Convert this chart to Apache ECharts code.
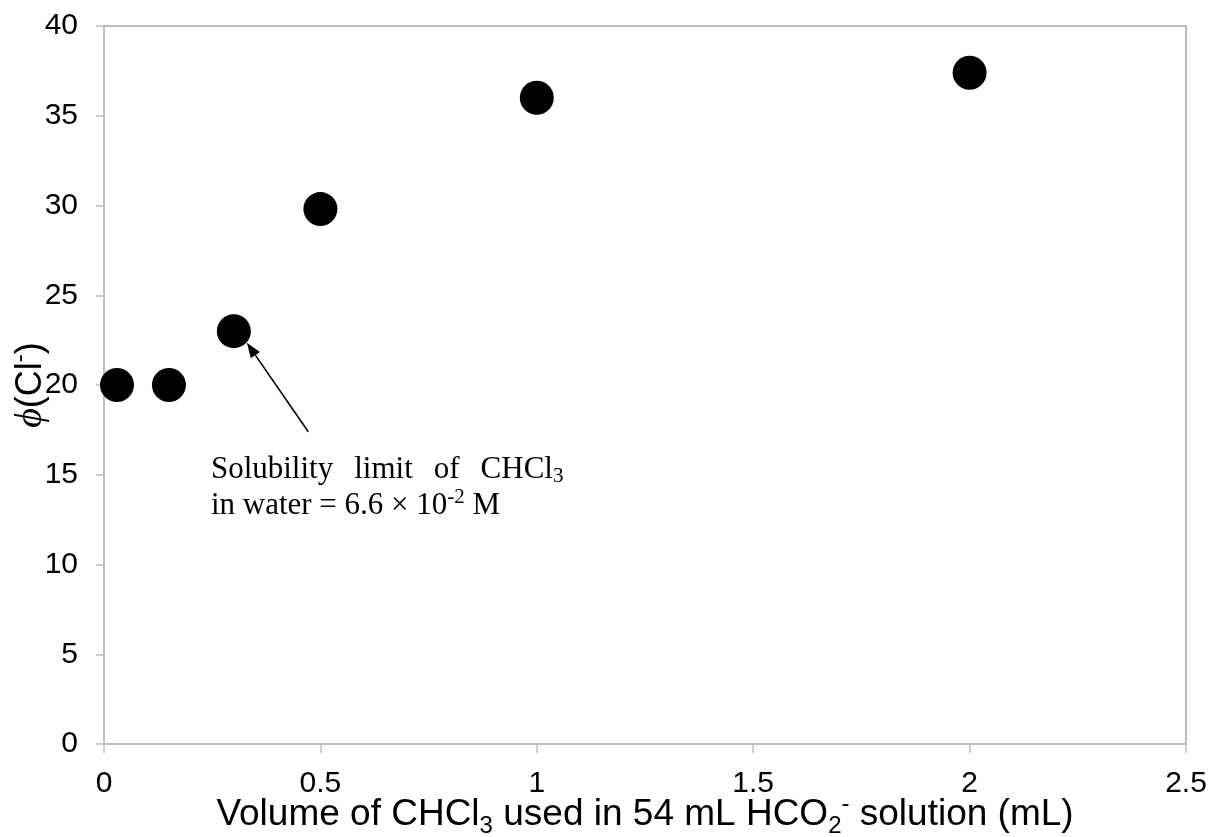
<!DOCTYPE html>
<html>
<head>
<meta charset="utf-8">
<script src="https://cdn.jsdelivr.net/npm/echarts@6/dist/echarts.min.js"></script>
<style>
html,body{margin:0;padding:0;background:#fff;}
#chart{width:1213px;height:837px;}
</style>
</head>
<body>
<div id="chart"></div>
<script>
// Data
const volumes = [0.03, 0.15, 0.3, 0.5, 1, 2];
const phiValues = [20, 20, 23, 29.8, 36, 37.4];
const xTicks = [0, 0.5, 1, 1.5, 2, 2.5];
const yTicks = [0, 5, 10, 15, 20, 25, 30, 35, 40];
// annotation (data coordinates)
const arrowFrom = [0.472, 17.4];
const arrowTo = [0.330, 22.35];
const noteAnchor = [0.247, 16.3];

const points = volumes.map((v, i) => [v, phiValues[i]]);
const sans = 'Liberation Sans, Arial, sans-serif';
const serif = 'Liberation Serif, Times New Roman, serif';

const chart = echarts.init(document.getElementById('chart'), null, {renderer: 'canvas'});
const option = {
  animation: false,
  backgroundColor: '#fff',
  grid: {left: 104, right: 27, top: 26, bottom: 93, containLabel: false, outerBoundsMode: 'none',
    show: true, borderColor: '#a6a6a6', borderWidth: 1.5},
  xAxis: {
    type: 'value', min: xTicks[0], max: xTicks[xTicks.length - 1], interval: 0.5,
    splitLine: {show: false},
    axisLine: {lineStyle: {color: '#c0c0c0', width: 2}},
    axisTick: {show: true, inside: false, length: 9, lineStyle: {color: '#c0c0c0', width: 1.5}},
    axisLabel: {color: '#000', fontFamily: sans, fontSize: 30, margin: 25,
      formatter: v => String(v)},
    name: '{t|Volume of CHCl}{s|3}{t| used in 54 mL HCO}{s|2}{p|-}{t| solution (mL)}',
    nameLocation: 'middle', nameGap: 48, nameMoveOverlap: false,
    nameTextStyle: {
      rich: {
        t: {fontFamily: sans, fontSize: 37, color: '#000', lineHeight: 46},
        s: {fontFamily: sans, fontSize: 24, color: '#000', lineHeight: 46, verticalAlign: 'bottom'},
        p: {fontFamily: sans, fontSize: 24, color: '#000', lineHeight: 46, verticalAlign: 'top'}
      }
    }
  },
  yAxis: {
    type: 'value', min: yTicks[0], max: yTicks[yTicks.length - 1], interval: 5,
    splitLine: {show: false},
    axisLine: {show: true, lineStyle: {color: '#c0c0c0', width: 2}},
    axisTick: {show: true, inside: false, length: 8, lineStyle: {color: '#c0c0c0', width: 1.5}},
    axisLabel: {color: '#000', fontFamily: sans, fontSize: 30, margin: 26},
    name: '{i|ϕ}{t|(Cl}{p|-}{t|)}',
    nameLocation: 'middle', nameGap: 50, nameRotate: 90, nameMoveOverlap: false,
    nameTextStyle: {
      rich: {
        i: {fontFamily: serif, fontStyle: 'italic', fontSize: 38, color: '#000', lineHeight: 46},
        t: {fontFamily: sans, fontSize: 36, color: '#000', lineHeight: 46},
        p: {fontFamily: sans, fontSize: 24, color: '#000', lineHeight: 46, verticalAlign: 'top'}
      }
    }
  },
  series: [{
    type: 'scatter',
    data: points,
    symbol: 'circle',
    symbolSize: 34,
    itemStyle: {color: '#000', opacity: 1}
  }]
};
chart.setOption(option);

const a = chart.convertToPixel({seriesIndex: 0}, arrowFrom);
const b = chart.convertToPixel({seriesIndex: 0}, arrowTo);
const dx = b[0] - a[0], dy = b[1] - a[1];
const len = Math.hypot(dx, dy);
const ux = dx / len, uy = dy / len;
const headLen = 15, headHalf = 5.5;
const base = [b[0] - ux * headLen, b[1] - uy * headLen];
const head = [
  [b[0], b[1]],
  [base[0] - uy * headHalf, base[1] + ux * headHalf],
  [base[0] + uy * headHalf, base[1] - ux * headHalf]
];
const p = chart.convertToPixel({seriesIndex: 0}, noteAnchor);
chart.setOption({
  graphic: [
    {type: 'line', z: 10, shape: {x1: a[0], y1: a[1], x2: base[0], y2: base[1]},
      style: {stroke: '#000', lineWidth: 1.6}},
    {type: 'polygon', z: 10, shape: {points: head}, style: {fill: '#000'}},
    {
      type: 'text', z: 10, x: p[0], y: p[1],
      style: {
        text: '{t|Solubility}{g|}{t|limit}{g|}{t|of}{g|}{t|CHCl}{s|3}\n{t|in water = 6.6 × 10}{p|-2}{t| M}',
        rich: {
          t: {fontFamily: serif, fontSize: 31, fill: '#000', lineHeight: 36},
          g: {width: 21, lineHeight: 36},
          s: {fontFamily: serif, fontSize: 21, fill: '#000', lineHeight: 36, verticalAlign: 'bottom'},
          p: {fontFamily: serif, fontSize: 21, fill: '#000', lineHeight: 36, verticalAlign: 'top'}
        }
      }
    }
  ]
});
</script>
</body>
</html>
